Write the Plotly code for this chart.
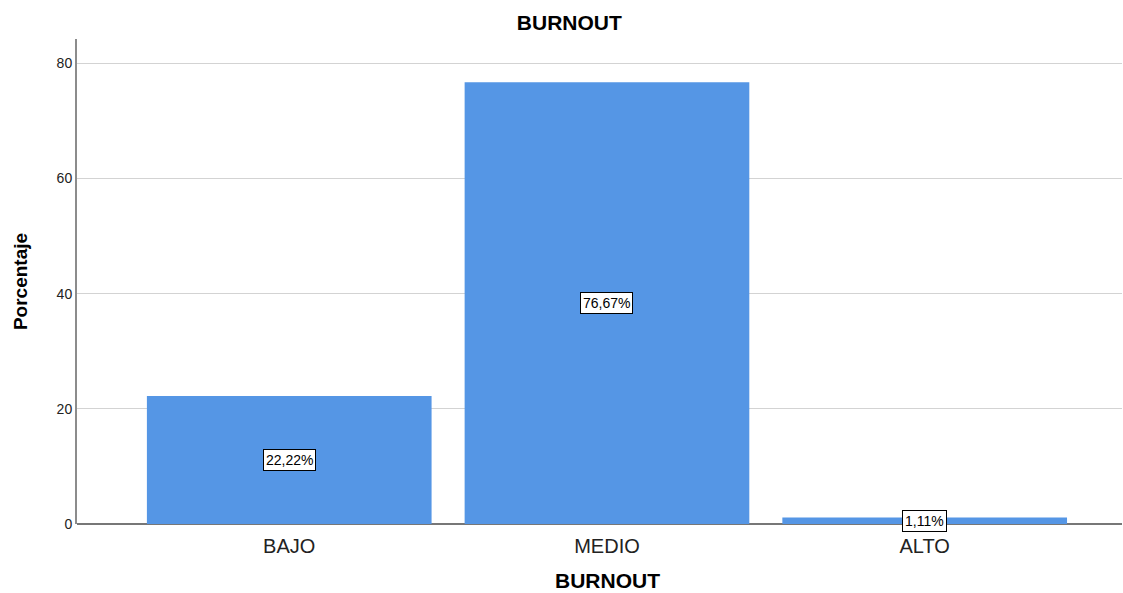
import plotly.graph_objects as go

categories = ["BAJO", "MEDIO", "ALTO"]
percentages = [22.22, 76.67, 1.11]
labels = ["22,22%", "76,67%", "1,11%"]
y_ticks = [0, 20, 40, 60, 80]

FONT = "Liberation Sans, Arial"

fig = go.Figure()
fig.add_trace(go.Bar(
    x=categories, y=percentages,
    marker=dict(color="#5596E5", line=dict(width=0)),
    hoverinfo="skip",
))

for c, v, t in zip(categories, percentages, labels):
    fig.add_annotation(
        x=c, y=v / 2, text=t, showarrow=False,
        font=dict(family=FONT, size=14, color="#000000"),
        bgcolor="#FFFFFF", bordercolor="#000000", borderwidth=1, borderpad=2,
    )

# x-axis title (centered over the middle category, as in the source)
fig.add_annotation(
    xref="paper", yref="paper", x=0.5077, y=-0.1165, xanchor="center", yanchor="middle",
    text="<b>BURNOUT</b>", showarrow=False,
    font=dict(family=FONT, size=21, color="#000000"),
)

fig.update_layout(
    width=1123, height=593,
    margin=dict(l=77, r=1, t=39, b=69),
    paper_bgcolor="#FFFFFF", plot_bgcolor="#FFFFFF",
    bargap=0.104,
    showlegend=False,
    title=dict(text="<b>BURNOUT</b>", x=0.507, xanchor="center", y=0.962, yanchor="middle",
               font=dict(family=FONT, size=21, color="#000000")),
    font=dict(family=FONT, color="#000000"),
)
fig.update_xaxes(
    range=[-0.668, 2.621], showgrid=False, showline=False, ticks="",
    tickfont=dict(size=20, color="#222222"), ticklabelstandoff=8,
    zeroline=False, automargin=False,
)
fig.update_yaxes(
    range=[0, 84.2], tickvals=y_ticks, ticktext=[str(v) for v in y_ticks],
    showgrid=True, gridcolor="#D3D3D3", gridwidth=1,
    showline=True, linecolor="#8C8C8C", linewidth=2,
    zeroline=True, zerolinecolor="#777777", zerolinewidth=1.5,
    ticks="", tickfont=dict(size=14, color="#222222"),
    title=dict(text="<b>Porcentaje</b>", font=dict(size=19, color="#000000"), standoff=24),
    automargin=False,
)
fig.write_html("out.html")
